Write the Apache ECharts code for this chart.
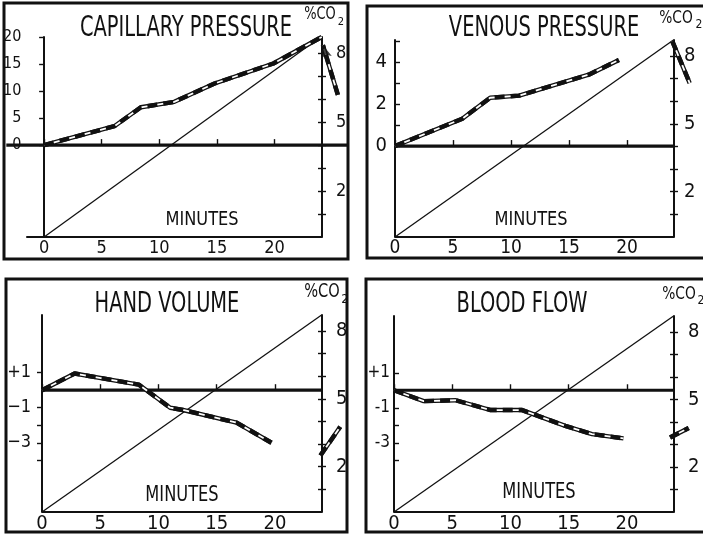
<!DOCTYPE html>
<html>
<head>
<meta charset="utf-8">
<script src="https://cdn.jsdelivr.net/npm/echarts@6/dist/echarts.min.js"></script>
<style>
html, body { margin: 0; padding: 0; background: #fff; }
#main { width: 703px; height: 534px; }
</style>
</head>
<body>
<div id="main"></div>
<script>
// tick labels
var minuteTicks = [0, 5, 10, 15, 20];
var co2Ticks = [1, 2, 3, 4, 5, 6, 7, 8];
var co2Labels = [2, 5, 8];
var capTicks = [0, 5, 10, 15, 20];
var venTicks = [0, 1, 2, 3, 4, 5];
var venLabels = [0, 2, 4];
var volTicks = [1, -1, -2, -3, -4];
var volLabels = [1, -1, -3];

// % CO2 rises linearly over the run
var co2Min = [0, 24];
var co2Pct = [0, 8.7];

// capillary pressure
var capMin = [0, 6.1, 8.4, 11.3, 14.8, 19.9, 24.1];
var capVal = [0, 3.5, 7.0, 8.0, 11.4, 15.1, 20];
var capArrowMin = [25.5, 24.2];
var capArrowVal = [9.3, 18.5];

// venous pressure
var venMin = [0, 5.8, 8.2, 10.7, 16.7, 19.3];
var venVal = [0, 1.3, 2.3, 2.4, 3.4, 4.1];
var venArrowMin = [23.9, 25.4];
var venArrowVal = [5.0, 3.0];

// hand volume
var volMin = [0, 2.8, 8.3, 11.0, 12.1, 16.7, 19.7];
var volVal = [0, 0.95, 0.32, -1.0, -1.13, -1.85, -3.0];
var volArrowMin = [23.9, 25.6];
var volArrowVal = [-3.73, -2.09];

// blood flow
var flowMin = [0, 2.55, 5.3, 8.3, 11.0, 14.7, 17.0, 19.7];
var flowVal = [0, -0.62, -0.57, -1.13, -1.13, -2.03, -2.5, -2.75];
var flowArrowMin = [23.7, 25.3];
var flowArrowVal = [-2.7, -2.15];

// zero line spans (minutes)
var zeroSpan = [[-3.28, 26.38], [0, 24.05], [0, 24.03], [0, 24.03]];
// where the left and right axes stand (minutes)
var axisSpan = [[-1.55, 24.14], [0, 24.05], [0, 24.03], [0, 24.03]];

var FONT = '"DejaVu Sans Condensed", "DejaVu Sans", sans-serif';
var INK = '#111';

function pairs(xs, ys) {
	return xs.map(function (x, i) { return [x, ys[i]]; });
}

var myChart = echarts.init(document.getElementById('main'), null, { renderer: 'canvas' });

var panels = [
	{ grid: { left: 4, top: 37, width: 344, height: 200 }, xMin: -3.28, xMax: 26.38, lOff: -20, rOff: -26,
	  yMin: -17, yMax: 20, yTicks: capTicks, yLabels: capTicks, yTickInside: false, yFont: 16, yMargin: 5,
	  fmt: function (v) { return v; },
	  xFont: 18, rFont: 18, rMargin: 14, line: pairs(capMin, capVal), arrow: pairs(capArrowMin, capArrowVal) },
	{ grid: { left: 395, top: 40, width: 305, height: 197 }, xMin: 0, xMax: 26.29, lOff: 0, rOff: -26,
	  yMin: -4.33, yMax: 5.05, yTicks: venTicks, yLabels: venLabels, yTickInside: true, yFont: 20, yMargin: 8,
	  fmt: function (v) { return v; },
	  xFont: 19, rFont: 20, rMargin: 10, line: pairs(venMin, venVal), arrow: pairs(venArrowMin, venArrowVal) },
	{ grid: { left: 42, top: 315, width: 303, height: 199 }, xMin: 0, xMax: 26.01, lOff: 0, rOff: -23,
	  yMin: -6.95, yMax: 4.29, yTicks: volTicks, yLabels: volLabels, yTickInside: false, yFont: 18, yMargin: 11,
	  fmt: function (v) { return v > 0 ? '+' + v : '\u2212' + Math.abs(v); },
	  xFont: 20, rFont: 20, rMargin: 14, line: pairs(volMin, volVal), arrow: pairs(volArrowMin, volArrowVal) },
	{ grid: { left: 394, top: 316, width: 306, height: 198 }, xMin: 0, xMax: 26.27, lOff: 0, rOff: -26,
	  yMin: -6.95, yMax: 4.24, yTicks: volTicks, yLabels: volLabels, yTickInside: true, yFont: 17, yMargin: 4,
	  fmt: function (v) { return v > 0 ? '+' + v : '-' + Math.abs(v); },
	  xFont: 20, rFont: 20, rMargin: 14, line: pairs(flowMin, flowVal), arrow: pairs(flowArrowMin, flowArrowVal) }
];

var grids = [], xAxes = [], yAxes = [], series = [];

panels.forEach(function (p, i) {
	grids.push(p.grid);
	xAxes.push({
		gridIndex: i, type: 'value', min: p.xMin, max: p.xMax,
		axisLine: { show: false },
		axisTick: { inside: true, length: 6, lineStyle: { color: INK, width: 1.4 }, customValues: minuteTicks },
		axisLabel: { color: INK, fontFamily: FONT, fontSize: p.xFont, margin: 2, customValues: minuteTicks },
		splitLine: { show: false }
	});
	// left value axis
	yAxes.push({
		gridIndex: i, type: 'value', position: 'left', offset: p.lOff, min: p.yMin, max: p.yMax,
		axisLine: { show: true, lineStyle: { color: INK, width: 2 } },
		axisTick: { show: true, inside: p.yTickInside, length: 5, lineStyle: { color: INK, width: 1.4 }, customValues: p.yTicks },
		axisLabel: { color: INK, fontFamily: FONT, fontSize: p.yFont, margin: p.yMargin, customValues: p.yLabels, formatter: p.fmt },
		splitLine: { show: false }
	});
	// right % CO2 axis
	yAxes.push({
		gridIndex: i, type: 'value', position: 'right', offset: p.rOff, min: 0, max: co2Pct[1],
		axisLine: { show: true, lineStyle: { color: INK, width: 2 } },
		axisTick: { show: true, length: 4, lineStyle: { color: INK, width: 1.4 }, customValues: co2Ticks },
		axisLabel: { color: INK, fontFamily: FONT, fontSize: p.rFont, margin: p.rMargin, customValues: co2Labels },
		splitLine: { show: false }
	});
	// inner half of the crossing ticks
	yAxes.push({
		gridIndex: i, type: 'value', position: 'right', offset: p.rOff, min: 0, max: co2Pct[1],
		axisLine: { show: false },
		axisTick: { show: true, inside: true, length: 4, lineStyle: { color: INK, width: 1.4 }, customValues: co2Ticks },
		axisLabel: { show: false },
		splitLine: { show: false }
	});
	var yl = i * 3, yr = i * 3 + 1;

	// bottom axis line, only between the two vertical axes
	series.push({
		type: 'line', xAxisIndex: i, yAxisIndex: yl, data: [[axisSpan[i][0], p.yMin], [axisSpan[i][1], p.yMin]],
		symbol: 'none', lineStyle: { color: INK, width: 1.8 }, z: 2, silent: true
	});
	series.push({
		type: 'line', xAxisIndex: i, yAxisIndex: yr, data: pairs(co2Min, co2Pct),
		symbol: 'none', lineStyle: { color: INK, width: 1.3 }, z: 2, silent: true
	});
	series.push({
		type: 'line', xAxisIndex: i, yAxisIndex: yl, data: [[zeroSpan[i][0], 0], [zeroSpan[i][1], 0]],
		symbol: 'none', lineStyle: { color: INK, width: 3.2 }, z: 3, silent: true
	});
	[p.line, p.arrow].forEach(function (d) {
		series.push({ type: 'line', xAxisIndex: i, yAxisIndex: yl, data: d, symbol: 'none',
			lineStyle: { color: INK, width: 4.4 }, z: 4, silent: true });
		series.push({ type: 'line', xAxisIndex: i, yAxisIndex: yl, data: d, symbol: 'none',
			lineStyle: { color: '#fff', width: 1.8 }, z: 5, silent: true });
		series.push({ type: 'line', xAxisIndex: i, yAxisIndex: yl, data: d, symbol: 'none',
			lineStyle: { color: INK, width: 4.4, type: [10, 6] }, z: 6, silent: true });
	});
});

// arrowhead on the capillary trace
series.push({
	type: 'scatter', xAxisIndex: 0, yAxisIndex: 0, silent: true, z: 7,
	data: [{ value: [capArrowMin[1], capArrowVal[1]], symbol: 'arrow', symbolSize: [8, 13], symbolRotate: 17 }],
	itemStyle: { color: INK }
});

function txt(x, y, s, size, sx, sy) {
	return { type: 'text', x: x, y: y, scaleX: sx || 1, scaleY: sy || 1, silent: true, z: 10,
		style: { text: s, fontFamily: FONT, fontSize: size, fill: INK, textAlign: 'center', textVerticalAlign: 'middle' } };
}
function box(x, y, w, h) {
	return { type: 'rect', shape: { x: x, y: y, width: w, height: h }, silent: true, z: 1,
		style: { fill: null, stroke: INK, lineWidth: 3 } };
}

var graphics = [
	box(4, 3, 344, 256), box(367, 6, 345, 252), box(6, 279, 341, 253), box(366, 279, 346, 253),
	txt(186, 29, 'CAPILLARY PRESSURE', 24, 0.9, 1.15),
	txt(544, 29, 'VENOUS PRESSURE', 24, 0.9, 1.15),
	txt(167, 305, 'HAND VOLUME', 24, 0.9, 1.15),
	txt(522, 305, 'BLOOD FLOW', 24, 0.9, 1.15),
	txt(202, 220, 'MINUTES', 18, 1.0, 1.1),
	txt(531, 220, 'MINUTES', 18, 1.0, 1.1),
	txt(182, 496, 'MINUTES', 19, 0.95, 1.1),
	txt(539, 493, 'MINUTES', 19, 0.95, 1.1),
	txt(320, 15, '%CO', 16, 0.9, 1.05), txt(341, 22, '2', 11),
	txt(676, 18, '%CO', 17, 0.9, 1.05), txt(699, 25, '2', 12),
	txt(322, 292, '%CO', 18, 0.9, 1.05), txt(345, 300, '2', 13),
	txt(679, 294, '%CO', 17, 0.9, 1.05), txt(701, 301, '2', 12)
];

option = {
	backgroundColor: '#fff',
	animation: false,
	grid: grids,
	xAxis: xAxes,
	yAxis: yAxes,
	series: series,
	graphic: graphics
};

myChart.setOption(option, true);
</script>
</body>
</html>
